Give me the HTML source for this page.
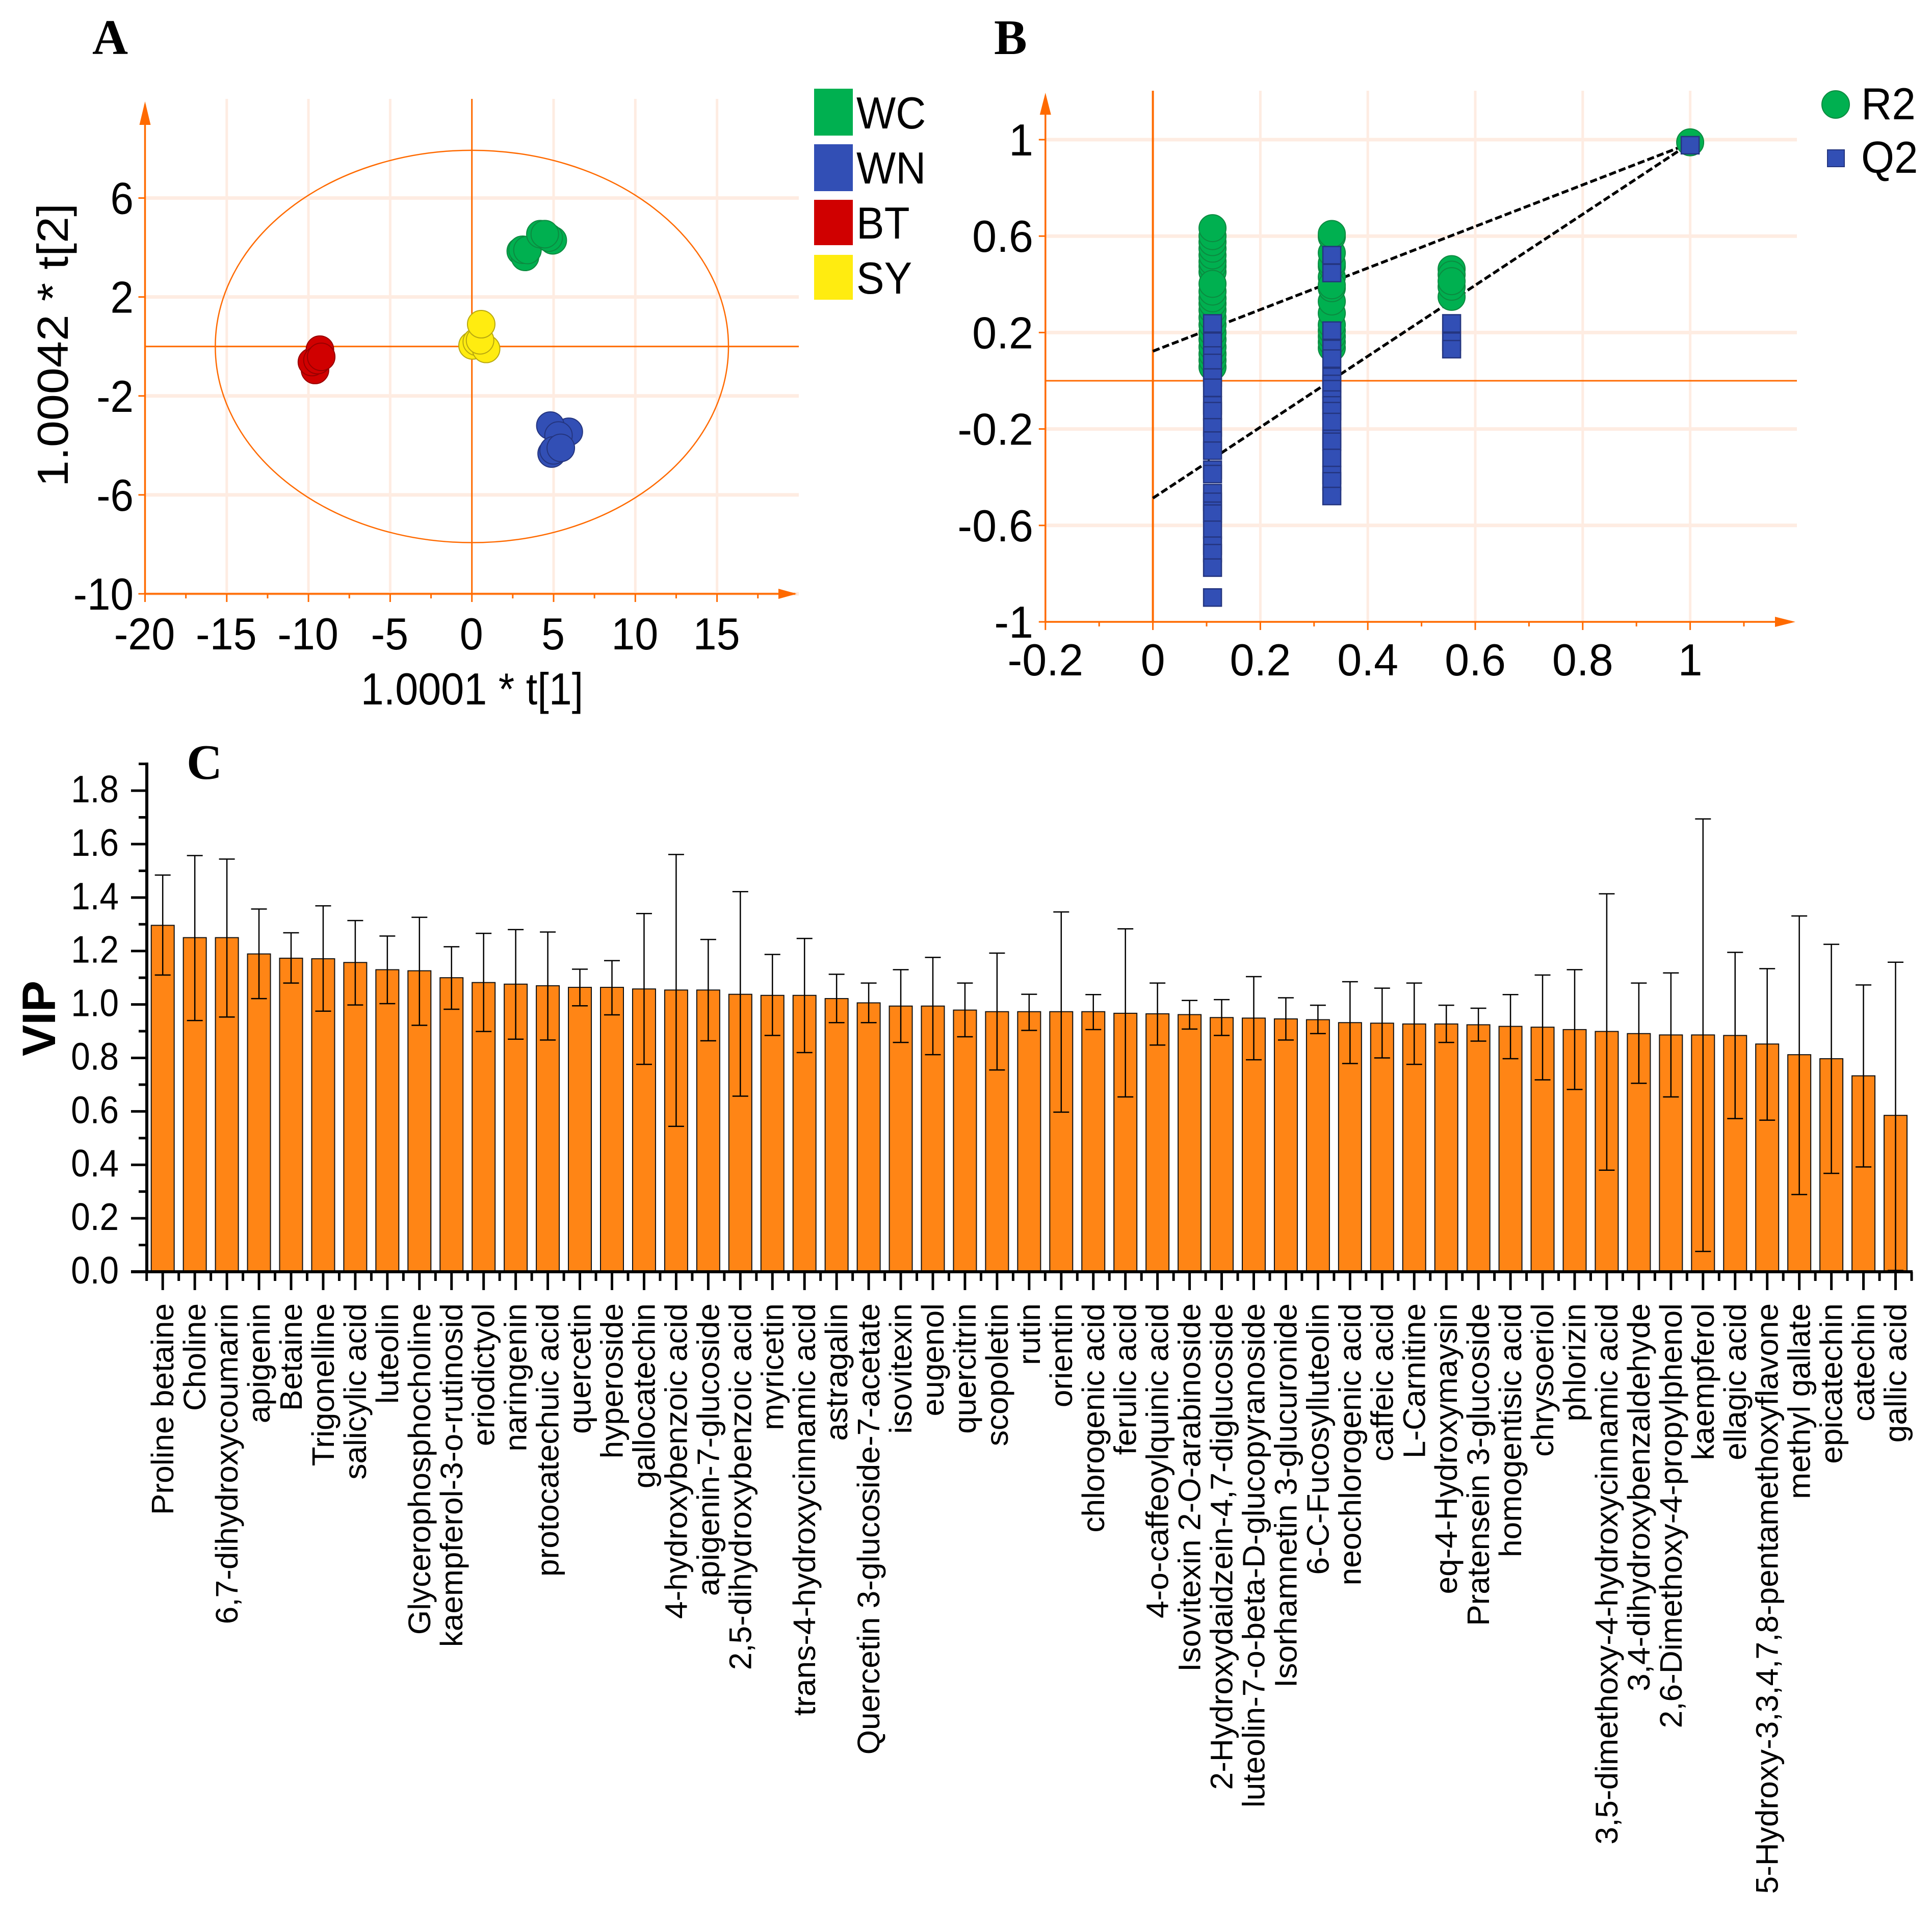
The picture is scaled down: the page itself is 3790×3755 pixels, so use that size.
<!DOCTYPE html>
<html lang="en">
<head>
<meta charset="utf-8">
<title>PLS-DA score plot, permutation test and VIP chart</title>
<style>
html,body{margin:0;padding:0;background:#fff;}
svg{display:block;}
text{font-family:"Liberation Sans",sans-serif;fill:#000;}
.letter{font-family:"Liberation Serif",serif;font-weight:bold;font-size:97px;}
</style>
</head>
<body>
<svg id="figure" xmlns="http://www.w3.org/2000/svg" width="3790" height="3755" viewBox="0 0 3790 3755">
  <rect width="3790" height="3755" fill="#ffffff"/>
  <text class="letter" x="181" y="106">A</text>
  <text class="letter" x="1950" y="106">B</text>
  <text class="letter" x="366" y="1528">C</text>
  <g id="panelA"></g>
  <g id="panelB"></g>
  <g id="panelC"></g>
  <g>
    <rect x="1597" y="174" width="76" height="92" fill="#00b050"/>
    <rect x="1597" y="283" width="76" height="92" fill="#324fb5"/>
    <rect x="1597" y="392" width="76" height="89" fill="#d00000"/>
    <rect x="1597" y="500" width="76" height="88" fill="#ffec10"/>
    <text transform="translate(1680,252) scale(.93,1)" font-size="88">WC</text>
    <text transform="translate(1680,360) scale(.93,1)" font-size="88">WN</text>
    <text transform="translate(1680,468) scale(.93,1)" font-size="88">BT</text>
    <text transform="translate(1680,576) scale(.93,1)" font-size="88">SY</text>
  </g>
  <g>
    <circle cx="3601" cy="205" r="27" fill="#00b050" stroke="#0c8a40" stroke-width="2"/>
    <rect x="3585" y="294" width="33" height="33" fill="#324fb5" stroke="#24357f" stroke-width="2"/>
    <text transform="translate(3651,234) scale(.95,1)" font-size="88">R2</text>
    <text transform="translate(3651,339) scale(.95,1)" font-size="88">Q2</text>
  </g>
</svg>
<script>
/* ---------- Panel A data: score plot ---------- */
const wcT1 = [2.99, 3.25, 3.10, 3.40, 4.95, 4.70, 4.19, 4.46];
const wcT2 = [3.85, 3.62, 3.91, 3.90, 4.29, 4.40, 4.54, 4.54];
const wnT1 = [5.93, 4.80, 5.30, 4.88, 5.00, 5.44];
const wnT2 = [-3.45, -3.20, -3.60, -4.33, -4.20, -4.10];
const btT1 = [-9.60, -9.79, -9.30, -9.45, -9.22];
const btT2 = [-0.95, -0.63, -0.13, -0.55, -0.42];
const syT1 = [0.04, 0.30, 0.87, 0.50, 0.57];
const syT2 = [0.04, 0.19, -0.10, 0.25, 0.90];
const scoreXTicks = [-20, -15, -10, -5, 0, 5, 10, 15];
const scoreYTicks = [6, 2, -2, -6, -10];

/* ---------- Panel B data: permutation plot ---------- */
const r2X = [0.111, 0.111, 0.111, 0.111, 0.111, 0.111, 0.111, 0.111, 0.111, 0.111, 0.111, 0.111, 0.111, 0.111, 0.111, 0.111, 0.111, 0.111, 0.111, 0.111, 0.111, 0.333, 0.333, 0.333, 0.333, 0.333, 0.333, 0.333, 0.333, 0.333, 0.333, 0.333, 0.333, 0.333, 0.333, 0.333, 0.556, 0.556, 0.556, 0.556, 0.556, 1];
const r2Y = [0.057, 0.085, 0.111, 0.14, 0.171, 0.2, 0.232, 0.262, 0.293, 0.32, 0.342, 0.37, 0.451, 0.475, 0.494, 0.52, 0.548, 0.575, 0.600, 0.402, 0.633, 0.136, 0.16, 0.184, 0.208, 0.232, 0.28, 0.329, 0.384, 0.43, 0.475, 0.487, 0.53, 0.597, 0.396, 0.609, 0.463, 0.348, 0.44, 0.39, 0.413, 0.989];
const q2X = [0.111, 0.111, 0.111, 0.111, 0.111, 0.111, 0.111, 0.111, 0.111, 0.111, 0.111, 0.111, 0.111, 0.111, 0.111, 0.111, 0.111, 0.111, 0.111, 0.111, 0.111, 0.111, 0.333, 0.333, 0.333, 0.333, 0.333, 0.333, 0.333, 0.333, 0.333, 0.333, 0.333, 0.333, 0.333, 0.333, 0.333, 0.333, 0.333, 0.333, 0.556, 0.556, 0.556, 1];
const q2Y = [0.238, 0.162, 0.105, 0.074, 0.0135, -0.029, -0.102, -0.126, -0.193, -0.248, -0.290, -0.369, -0.387, -0.466, -0.502, -0.539, -0.551, -0.618, -0.684, -0.715, -0.775, -0.899, 0.521, 0.447, 0.208, 0.132, 0.092, 0.016, -0.013, -0.035, -0.078, -0.102, -0.126, -0.171, -0.241, -0.253, -0.320, -0.391, -0.417, -0.478, 0.238, 0.162, 0.131, 0.977];
const r2LineEnds = [0.1226, 0.985];
const q2LineEnds = [-0.487, 0.985];
const permXTicks = ["-0.2", "0", "0.2", "0.4", "0.6", "0.8", "1"];
const permYTicks = ["1", "0.6", "0.2", "-0.2", "-0.6", "-1"];

/* ---------- Panel C data: VIP chart ---------- */
const metabolites = ["Proline betaine","Choline","6,7-dihydroxycoumarin","apigenin","Betaine","Trigonelline","salicylic acid","luteolin","Glycerophosphocholine","kaempferol-3-o-rutinosid","eriodictyol","naringenin","protocatechuic acid","quercetin","hyperoside","gallocatechin","4-hydroxybenzoic acid","apigenin-7-glucoside","2,5-dihydroxybenzoic acid","myricetin","trans-4-hydroxycinnamic acid","astragalin","Quercetin 3-glucoside-7-acetate","isovitexin","eugenol","quercitrin","scopoletin","rutin","orientin","chlorogenic acid","ferulic acid","4-o-caffeoylquinic acid","Isovitexin 2-O-arabinoside","2-Hydroxydaidzein-4,7-diglucoside","luteolin-7-o-beta-D-glucopyranoside","Isorhamnetin 3-glucuronide","6-C-Fucosylluteolin","neochlorogenic acid","caffeic acid","L-Carnitine","eq-4-Hydroxymaysin","Pratensein 3-glucoside","homogentisic acid","chrysoeriol","phlorizin","3,5-dimethoxy-4-hydroxycinnamic acid","3,4-dihydroxybenzaldehyde","2,6-Dimethoxy-4-propylphenol","kaempferol","ellagic acid","5-Hydroxy-3,3,4,7,8-pentamethoxyflavone","methyl gallate","epicatechin","catechin","gallic acid"];
const vipValues = [1.296,1.250,1.250,1.189,1.173,1.171,1.157,1.130,1.126,1.100,1.082,1.076,1.070,1.064,1.064,1.058,1.054,1.054,1.038,1.034,1.034,1.022,1.006,0.994,0.994,0.979,0.973,0.973,0.973,0.973,0.967,0.965,0.962,0.951,0.949,0.946,0.943,0.932,0.930,0.927,0.927,0.924,0.918,0.915,0.906,0.899,0.891,0.886,0.886,0.884,0.852,0.812,0.797,0.733,0.585];
const vipUpper = [1.484,1.557,1.544,1.357,1.268,1.369,1.314,1.256,1.326,1.216,1.266,1.280,1.271,1.132,1.164,1.340,1.561,1.243,1.422,1.187,1.247,1.113,1.080,1.130,1.176,1.080,1.192,1.038,1.346,1.037,1.283,1.080,1.015,1.018,1.104,1.025,0.997,1.085,1.061,1.080,0.997,0.986,1.037,1.110,1.130,1.414,1.080,1.118,1.694,1.195,1.134,1.331,1.225,1.073,1.158];
const vipLower = [1.110,0.940,0.953,1.022,1.080,0.975,0.998,1.003,0.922,0.982,0.899,0.870,0.867,0.995,0.961,0.776,0.544,0.864,0.657,0.884,0.820,0.932,0.932,0.858,0.812,0.879,0.755,0.903,0.597,0.906,0.654,0.848,0.908,0.884,0.793,0.867,0.891,0.779,0.800,0.776,0.858,0.863,0.797,0.718,0.682,0.380,0.705,0.654,0.076,0.573,0.567,0.289,0.368,0.392,0.005];
const vipTicks = ["0.0","0.2","0.4","0.6","0.8","1.0","1.2","1.4","1.6","1.8"];

/* ---------- helpers ---------- */
const NS = "http://www.w3.org/2000/svg";
const ORANGE = "#ff6a00";
const GRID = "#feece2";
function make(tag, parent, attrs) {
  const el = document.createElementNS(NS, tag);
  for (const k in attrs) el.setAttribute(k, attrs[k]);
  parent.appendChild(el);
  return el;
}
function label(parent, str, x, y, size, anchor, sx) {
  const el = make("text", parent, {transform: "translate(" + x + "," + y + ") scale(" + sx + ",1)", "font-size": size, "text-anchor": anchor});
  el.textContent = str;
  return el;
}

/* ---------- Panel A ---------- */
(function () {
  const g = document.getElementById("panelA");
  const X = v => 925.7 + v * 32.06;
  const Y = v => 679.7 - v * 48.53;
  const top = 194, right = 1567;
  scoreXTicks.forEach(v => {
    if (v === -20 || v === 0) return;
    const el = make("line", g, {x1: X(v), x2: X(v), y1: top, y2: Y(-10), stroke: GRID, "stroke-width": 5});
    
    
  });
  scoreYTicks.forEach(v => {
    const el = make("line", g, {x1: X(-20), x2: right, y1: Y(v), y2: Y(v), stroke: GRID, "stroke-width": 7});
    
    
  });
  const ell = make("ellipse", g, {cx: X(0), cy: Y(0), rx: 15.7 * 32.06, ry: 7.93 * 48.53, fill: "none", stroke: ORANGE, "stroke-width": 2.5});
  
  
  const z1 = make("line", g, {x1: X(0), x2: X(0), y1: top, y2: Y(-10), stroke: ORANGE, "stroke-width": 3});
  
  
  const z2 = make("line", g, {x1: X(-20), x2: right, y1: Y(0), y2: Y(0), stroke: ORANGE, "stroke-width": 3});
  
  
  const ax1 = make("line", g, {x1: X(-20), x2: X(-20), y1: 205, y2: Y(-10), stroke: ORANGE, "stroke-width": 3.5});
  
  
  const ax2 = make("line", g, {x1: X(-20), x2: 1560, y1: Y(-10), y2: Y(-10), stroke: ORANGE, "stroke-width": 3.5});
  
  
  const ar1 = make("polygon", g, {points: X(-20) + ",199 " + (X(-20) - 11) + ",245 " + (X(-20) + 11) + ",245", fill: ORANGE});
  
  
  const ar2 = make("polygon", g, {points: "1563," + Y(-10) + " 1527," + (Y(-10) - 10) + " 1527," + (Y(-10) + 10), fill: ORANGE});
  
  
  scoreXTicks.forEach(v => {
    const t = make("line", g, {x1: X(v), x2: X(v), y1: Y(-10), y2: Y(-10) + 16, stroke: ORANGE, "stroke-width": 3});
    
    
    const m = make("line", g, {x1: X(v + 2.5), x2: X(v + 2.5), y1: Y(-10), y2: Y(-10) + 9, stroke: ORANGE, "stroke-width": 3});
    
    
    const l = label(g, String(v), X(v) - 1, 1274, 88, "middle", 0.94);
    
    
  });
  scoreYTicks.forEach(v => {
    const t = make("line", g, {x1: X(-20) - 13, x2: X(-20), y1: Y(v), y2: Y(v), stroke: ORANGE, "stroke-width": 3});
    
    
    const l = label(g, String(v), 262, Y(v) + 31, 88, "end", 0.93);
    
    
  });
  const tx = label(g, "1.0001 * t[1]", 926, 1382, 88, "middle", 0.92);
  
  
  const ty = make("text", g, {transform: "translate(133,677) rotate(-90) scale(1.1,1)", "font-size": 85, "text-anchor": "middle"});
  ty.textContent = "1.00042 * t[2]";
  
  
  const groups = [
    [wcT1, wcT2, "#00b050", "#0c8a40", "point-wc"],
    [wnT1, wnT2, "#324fb5", "#24357f", "point-wn"],
    [btT1, btT2, "#d00000", "#980000", "point-bt"],
    [syT1, syT2, "#ffec10", "#b8a810", "point-sy"]
  ];
  groups.forEach(gr => {
    gr[0].forEach((v, i) => {
      const c = make("circle", g, {cx: X(v), cy: Y(gr[1][i]), r: 27, fill: gr[2], stroke: gr[3], "stroke-width": 2});
      
      
    });
  });
})();

/* ---------- Panel B ---------- */
(function () {
  const g = document.getElementById("panelB");
  const X = v => 2261.6 + v * 1054;
  const Y = v => 747 - v * 473;
  const top = 178, right = 3525;
  permXTicks.forEach(s => {
    const v = parseFloat(s);
    if (v <= 0) return;
    const el = make("line", g, {x1: X(v), x2: X(v), y1: top, y2: Y(-1), stroke: GRID, "stroke-width": 5});
    
    
  });
  permYTicks.forEach(s => {
    const v = parseFloat(s);
    if (v === -1) return;
    const el = make("line", g, {x1: X(-0.2), x2: right, y1: Y(v), y2: Y(v), stroke: GRID, "stroke-width": 7});
    
    
  });
  const z1 = make("line", g, {x1: X(0), x2: X(0), y1: top, y2: Y(-1), stroke: ORANGE, "stroke-width": 4});
  
  
  const z2 = make("line", g, {x1: X(-0.2), x2: right, y1: Y(0), y2: Y(0), stroke: ORANGE, "stroke-width": 3});
  
  
  const ax1 = make("line", g, {x1: X(-0.2), x2: X(-0.2), y1: 190, y2: Y(-1), stroke: ORANGE, "stroke-width": 3.5});
  
  
  const ax2 = make("line", g, {x1: X(-0.2), x2: 3515, y1: Y(-1), y2: Y(-1), stroke: ORANGE, "stroke-width": 3.5});
  
  
  const ar1 = make("polygon", g, {points: X(-0.2) + ",182 " + (X(-0.2) - 11) + ",225 " + (X(-0.2) + 11) + ",225", fill: ORANGE});
  
  
  const ar2 = make("polygon", g, {points: "3522," + Y(-1) + " 3482," + (Y(-1) - 10) + " 3482," + (Y(-1) + 10), fill: ORANGE});
  
  
  permXTicks.forEach(s => {
    const v = parseFloat(s);
    const t = make("line", g, {x1: X(v), x2: X(v), y1: Y(-1), y2: Y(-1) + 16, stroke: ORANGE, "stroke-width": 3});
    
    
    const m = make("line", g, {x1: X(v + 0.1), x2: X(v + 0.1), y1: Y(-1), y2: Y(-1) + 9, stroke: ORANGE, "stroke-width": 3});
    
    
    const l = label(g, s, X(v), 1325, 88, "middle", 0.98);
    
    
  });
  permYTicks.forEach(s => {
    const v = parseFloat(s);
    const t = make("line", g, {x1: X(-0.2) - 13, x2: X(-0.2), y1: Y(v), y2: Y(v), stroke: ORANGE, "stroke-width": 3});
    
    
    const l = label(g, s, 2027, Y(v) + 31, 88, "end", 0.98);
    
    
  });
  const l1 = make("line", g, {x1: X(0), y1: Y(r2LineEnds[0]), x2: X(1), y2: Y(r2LineEnds[1]), stroke: "#000", "stroke-width": 5.5, "stroke-dasharray": "14 6"});
  
  
  const l2 = make("line", g, {x1: X(0), y1: Y(q2LineEnds[0]), x2: X(1), y2: Y(q2LineEnds[1]), stroke: "#000", "stroke-width": 5.5, "stroke-dasharray": "14 6"});
  
  
  r2X.forEach((v, i) => {
    const c = make("circle", g, {cx: X(v), cy: Y(r2Y[i]), r: 26.5, fill: "#00b050", stroke: "#0c8a40", "stroke-width": 2});
    
    
  });
  q2X.forEach((v, i) => {
    const r = make("rect", g, {x: X(v) - 17.5, y: Y(q2Y[i]) - 17, width: 35, height: 34, fill: "#324fb5", stroke: "#24357f", "stroke-width": 2.5});
    
    
  });
})();

/* ---------- Panel C ---------- */
(function () {
  const g = document.getElementById("panelC");
  const X = i => 319.2 + i * 62.95;
  const Y = v => 2495 - v * 524.4;
  metabolites.forEach((name, i) => {
    const b = make("rect", g, {x: X(i) - 22.5, y: Y(vipValues[i]), width: 45, height: Y(0) - Y(vipValues[i]), fill: "#ff8515", stroke: "#111", "stroke-width": 2});
    
    
  });
  metabolites.forEach((name, i) => {
    const e = make("line", g, {x1: X(i), x2: X(i), y1: Y(vipUpper[i]), y2: Y(vipLower[i]), stroke: "#000", "stroke-width": 2.5});
    
    
    const c1 = make("line", g, {x1: X(i) - 15.5, x2: X(i) + 15.5, y1: Y(vipUpper[i]), y2: Y(vipUpper[i]), stroke: "#000", "stroke-width": 2.5});
    
    
    const c2 = make("line", g, {x1: X(i) - 15.5, x2: X(i) + 15.5, y1: Y(vipLower[i]), y2: Y(vipLower[i]), stroke: "#000", "stroke-width": 2.5});
    
    
    const t = make("line", g, {x1: X(i), x2: X(i), y1: Y(0), y2: 2531, stroke: "#000", "stroke-width": 5});
    
    
    const m = make("line", g, {x1: X(i) + 31.5, x2: X(i) + 31.5, y1: Y(0), y2: 2513, stroke: "#000", "stroke-width": 5});
    
    
    const l = make("text", g, {transform: "translate(" + (X(i) + 21) + ",2557) rotate(-90) scale(1.02,1)", "font-size": 61, "text-anchor": "end"});
    l.textContent = name;
    
    
  });
  const m0 = make("line", g, {x1: X(0) - 31.5, x2: X(0) - 31.5, y1: Y(0), y2: 2513, stroke: "#000", "stroke-width": 5});
  
  
  const ax1 = make("line", g, {x1: 288, x2: 288, y1: 1496, y2: Y(0) + 3, stroke: "#000", "stroke-width": 6});
  
  
  const ax2 = make("line", g, {x1: 257, x2: 3752, y1: Y(0), y2: Y(0), stroke: "#000", "stroke-width": 6});
  
  
  vipTicks.forEach(s => {
    const v = parseFloat(s);
    const t = make("line", g, {x1: 257, x2: 288, y1: Y(v), y2: Y(v), stroke: "#000", "stroke-width": 5});
    
    
    const m = make("line", g, {x1: 272, x2: 288, y1: Y(v + 0.1), y2: Y(v + 0.1), stroke: "#000", "stroke-width": 5});
    
    
    const l = label(g, s, 233, Y(v) + 23, 75, "end", 0.9);
    
    
  });
  const ty = make("text", g, {transform: "translate(108,1998) rotate(-90)", "font-size": 92, "font-weight": "bold", "text-anchor": "middle"});
  ty.textContent = "VIP";
  
  
})();
</script>
</body>
</html>
